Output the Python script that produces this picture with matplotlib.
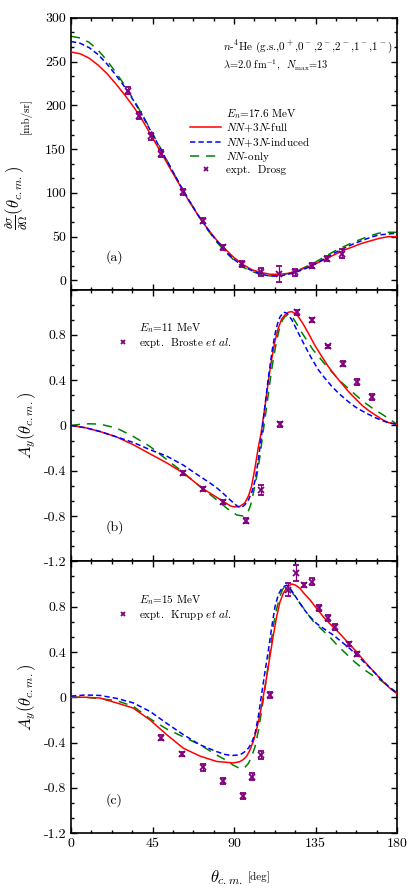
import matplotlib
matplotlib.use('Agg')

import matplotlib.pyplot as plt
from matplotlib.lines import Line2D
from matplotlib.ticker import MultipleLocator, AutoMinorLocator, FuncFormatter

plt.rcParams['font.family'] = ['cmr10', 'DejaVu Serif']
plt.rcParams['mathtext.fontset'] = 'cm'
plt.rcParams['axes.unicode_minus'] = False
plt.rcParams['axes.formatter.use_mathtext'] = True

# -------------------------
# Panel (a): cross section, En = 17.6 MeV
# -------------------------
ang_a = [0, 5, 10, 15, 20, 25, 30, 35, 40, 45, 50, 55, 60, 65, 70, 75, 80, 85, 90,
         95, 100, 105, 110, 115, 120, 125, 130, 135, 140, 145, 150, 155, 160, 165,
         170, 175, 180]
xs_full = [261, 259, 254, 246, 236, 224, 211, 197, 181, 163, 145, 127, 109, 91, 75,
           60, 47, 36, 26, 18, 12, 9, 7, 7, 8, 11, 15, 19, 24, 29, 34, 38, 42, 45,
           48, 50, 50]
xs_ind = [273, 271, 266, 258, 247, 234, 220, 204, 186, 167, 148, 129, 110, 92, 75,
          60, 46, 34, 24, 16, 11, 7, 5, 5, 7, 10, 14, 19, 25, 31, 36, 41, 45, 49,
          52, 53, 54]
xs_nn = [279, 277, 272, 263, 251, 237, 222, 205, 187, 168, 149, 129, 110, 92, 75,
         59, 45, 33, 23, 15, 10, 7, 5, 6, 8, 11, 16, 21, 27, 33, 38, 43, 47, 51,
         54, 55, 55]
drosg_ang = [31.6, 37.7, 44.0, 49.9, 61.7, 72.7, 83.8, 94.4, 104.9, 114.7, 123.9,
             133.0, 141.2, 149.6]
drosg_xs = [216.9, 188.4, 164.8, 144.9, 101.0, 68.2, 37.7, 18.7, 9.6, 7.3, 9.6,
            16.8, 24.8, 30.5]
drosg_err = [4, 4, 4, 4, 3, 3, 3, 3, 5, 9, 4, 3, 3, 5]

# -------------------------
# Panel (b): analyzing power, En = 11 MeV
# -------------------------
ang_b_full = [0, 8, 16, 25, 34.4, 43, 52.8, 62, 73, 84, 88, 90.4, 93, 95.9, 98,
              99.6, 101.5, 103.3, 105, 107, 109, 110.7, 112.5, 114.4, 116.3, 118.1,
              120, 121.8, 123.7, 125.5, 128, 131, 134.5, 138.4, 142, 145.8, 149.5,
              153.1, 156.8, 160.5, 164, 167.8, 171.5, 175.2, 180]
ay_b_full = [0, -0.02, -0.053, -0.10, -0.17, -0.245, -0.33, -0.42, -0.56, -0.67,
             -0.71, -0.72, -0.715, -0.685, -0.62, -0.54, -0.38, -0.2, -0.06, 0.16,
             0.40, 0.58, 0.74, 0.86, 0.94, 0.977, 1.0, 1.006, 0.99, 0.96, 0.90,
             0.815, 0.71, 0.61, 0.52, 0.44, 0.37, 0.30, 0.24, 0.18, 0.135, 0.094,
             0.055, 0.025, 0.01]
ang_b_ind = [0, 8, 16, 25, 34.4, 43, 52.8, 62, 71.2, 76, 80.4, 84, 88, 92, 94, 96,
             98, 100, 101.7, 103.5, 105.3, 107, 109, 111, 112.7, 114, 115.4, 117.3,
             118.7, 120, 122, 123.7, 126, 129.2, 132.5, 136.6, 140, 144, 148, 153.1,
             156.8, 160.5, 164, 167.8, 171.5, 175, 180]
ay_b_ind = [0, -0.02, -0.053, -0.10, -0.15, -0.21, -0.27, -0.35, -0.45, -0.50,
            -0.55, -0.60, -0.66, -0.715, -0.725, -0.70, -0.656, -0.58, -0.48, -0.29,
            -0.07, 0.17, 0.43, 0.66, 0.815, 0.90, 0.96, 1.0, 0.995, 0.977, 0.93,
            0.874, 0.80, 0.70, 0.60, 0.49, 0.42, 0.344, 0.28, 0.21, 0.165, 0.13,
            0.10, 0.07, 0.045, 0.025, 0.01]
ang_b_nn = [0, 5, 10, 16, 25.2, 34.4, 43.6, 52.8, 62, 71.2, 80.4, 85.9, 91.4, 95.1,
            97.8, 99.2, 100.6, 102.5, 104.3, 106, 108, 110, 111.6, 113.5, 115.3,
            116.7, 118, 119.5, 120.8, 122.5, 124.5, 127, 130, 133.5, 137.4, 141,
            144.7, 149, 153.9, 158.5, 163.1, 167.5, 172.2, 177.7, 180]
ay_b_nn = [0.0, 0.01, 0.015, 0.012, -0.023, -0.097, -0.185, -0.30, -0.415, -0.54,
           -0.656, -0.73, -0.79, -0.80, -0.76, -0.70, -0.60, -0.45, -0.27, -0.06,
           0.17, 0.41, 0.58, 0.75, 0.874, 0.93, 0.96, 0.975, 0.977, 0.95, 0.90,
           0.83, 0.756, 0.67, 0.595, 0.525, 0.46, 0.385, 0.315, 0.25, 0.19, 0.14,
           0.094, 0.035, 0.01]
broste_ang = [62.0, 73.1, 84.1, 96.6, 105.1, 115.4, 124.6, 133.1, 141.7, 150.3,
              158.1, 166.2]
broste_ay = [-0.42, -0.56, -0.676, -0.84, -0.57, 0.01, 1.0, 0.93, 0.70, 0.547,
             0.383, 0.25]
broste_err = [0.02, 0.02, 0.02, 0.025, 0.04, 0.02, 0.02, 0.015, 0.015, 0.02, 0.025,
              0.025]

# -------------------------
# Panel (c): analyzing power, En = 15 MeV
# -------------------------
ang_c_full = [0, 8, 16, 25.2, 34.4, 43.6, 52.8, 62, 71.2, 80.4, 89.6, 93, 95.1, 97,
              98.8, 100.6, 102.4, 104.3, 106.1, 108, 109.8, 111.6, 113.5, 115.3,
              117.2, 119.5, 121.8, 124, 126.4, 129, 131.9, 135.5, 139.3, 144, 148.5,
              153, 157.7, 162.3, 166.9, 171.5, 176, 180]
ay_c_full = [0, 0.0, -0.007, -0.05, -0.096, -0.2, -0.33, -0.45, -0.52, -0.567,
             -0.58, -0.57, -0.55, -0.52, -0.465, -0.39, -0.29, -0.15, 0.004, 0.18,
             0.36, 0.54, 0.71, 0.84, 0.92, 0.975, 1.0, 0.99, 0.96, 0.91, 0.86, 0.785,
             0.71, 0.63, 0.56, 0.48, 0.40, 0.31, 0.23, 0.15, 0.08, 0.03]
ang_c_ind = [0, 8, 16, 25.2, 34.4, 43.6, 52.8, 62, 71.2, 80.4, 85, 88.7, 92, 94.2,
             96, 97.9, 99.8, 101.6, 103.5, 105.3, 107.2, 109, 110.8, 112.6, 114.5,
             116.3, 117.7, 119.1, 120.9, 122.7, 125.5, 128.2, 131.9, 135.6, 140,
             144.7, 149.3, 153.9, 158.5, 163.1, 167.7, 172.2, 176, 180]
ay_c_ind = [0.01, 0.02, 0.016, -0.01, -0.05, -0.125, -0.23, -0.33, -0.42, -0.48,
            -0.505, -0.515, -0.51, -0.50, -0.48, -0.45, -0.40, -0.32, -0.16, 0.037,
            0.24, 0.42, 0.62, 0.80, 0.91, 0.96, 0.98, 0.99, 0.96, 0.92, 0.85, 0.785,
            0.71, 0.65, 0.60, 0.55, 0.49, 0.43, 0.36, 0.29, 0.215, 0.14, 0.085, 0.03]
ang_c_nn = [0, 8, 16, 25.2, 34.4, 43.6, 52.8, 62, 71.2, 80.4, 86, 89.6, 93.3, 95.6,
            97.9, 99.8, 101.6, 103.5, 105.3, 108, 109.8, 111.6, 113.5, 115.3, 116.7,
            118, 119.4, 120.8, 123.6, 126.4, 130, 133.7, 138.3, 142.9, 147.5, 152.1,
            156.7, 161.3, 165.8, 170.4, 175, 180]
ay_c_nn = [0.0, 0.0, -0.013, -0.03, -0.08, -0.19, -0.28, -0.35, -0.42, -0.51, -0.56,
           -0.60, -0.63, -0.625, -0.585, -0.52, -0.435, -0.29, -0.11, 0.18, 0.40,
           0.625, 0.78, 0.89, 0.95, 0.98, 0.975, 0.96, 0.89, 0.83, 0.75, 0.67, 0.60,
           0.53, 0.45, 0.38, 0.31, 0.25, 0.20, 0.155, 0.10, 0.04]
krupp_ang = [49.7, 61.5, 73.1, 84.1, 94.8, 99.9, 105.1, 110.0, 119.6, 124.0, 128.7,
             133.0, 137.1, 141.6, 145.8, 153.7, 157.7]
krupp_ay = [-0.357, -0.50, -0.62, -0.74, -0.87, -0.70, -0.51, 0.02, 0.95, 1.10, 0.99,
            1.02, 0.79, 0.70, 0.62, 0.47, 0.38]
krupp_err = [0.02, 0.02, 0.03, 0.03, 0.025, 0.03, 0.035, 0.025, 0.06, 0.07, 0.02,
             0.03, 0.025, 0.03, 0.025, 0.02, 0.02]

# -------------------------
# Styles
# -------------------------
RED, BLUE, GREEN, PURP = '#ff0000', '#0000ff', '#008000', '#800080'
LW = 1.1
BLUE_DASH = (3.5, 2.0)
GREEN_DASH = (6.0, 4.5)

fig = plt.figure(figsize=(4.15, 8.92), dpi=100)
gs = fig.add_gridspec(3, 1, left=0.171, right=0.957, top=0.98, bottom=0.066,
                      hspace=0)
axes = [fig.add_subplot(gs[k]) for k in range(3)]


def style_axis(ax):
    for sp in ax.spines.values():
        sp.set_linewidth(1.2)
    ax.set_xlim(0, 180)
    ax.xaxis.set_major_locator(MultipleLocator(45))
    ax.xaxis.set_minor_locator(MultipleLocator(11.25))
    ax.tick_params(which='both', direction='in', top=True, right=True,
                   labelsize=10, width=1.0)
    ax.tick_params(which='major', length=4.5)
    ax.tick_params(which='minor', length=2.5)
    ax.xaxis.set_major_formatter(FuncFormatter(lambda v, p: f'{v:.0f}'))


def draw_curves(ax, af, yf, ai, yi, an, yn):
    ax.plot(af, yf, color=RED, lw=LW, zorder=3)
    ax.plot(ai, yi, color=BLUE, lw=LW, dashes=BLUE_DASH, zorder=3)
    ax.plot(an, yn, color=GREEN, lw=LW, dashes=GREEN_DASH, zorder=2)


def draw_expt(ax, x, y, e):
    ax.errorbar(x, y, yerr=e, fmt='x', color=PURP, ecolor=PURP, ms=4, mew=1.3,
                elinewidth=0.9, capsize=2.2, capthick=0.9, zorder=4)


blank = Line2D([], [], color='none')
xmark = Line2D([], [], color=PURP, marker='x', ls='none', ms=3.5, mew=1.3)

# ---- (a)
ax = axes[0]
style_axis(ax)
draw_curves(ax, ang_a, xs_full, ang_a, xs_ind, ang_a, xs_nn)
draw_expt(ax, drosg_ang, drosg_xs, drosg_err)
ax.set_ylim(-10.5, 300)
ax.yaxis.set_major_locator(MultipleLocator(50))
ax.yaxis.set_minor_locator(AutoMinorLocator(3))
ax.yaxis.set_major_formatter(FuncFormatter(lambda v, p: f'{v:.0f}'))
ax.tick_params(labelbottom=False)
handles = [blank,
           Line2D([], [], color=RED, lw=LW),
           Line2D([], [], color=BLUE, lw=LW, dashes=BLUE_DASH),
           Line2D([], [], color=GREEN, lw=LW, dashes=GREEN_DASH),
           xmark]
labels = [r'$E_n$=17.6 MeV', r'$NN$+3$N$-full', r'$NN$+3$N$-induced',
          r'$NN$-only', 'expt.  Drosg']
ax.legend(handles, labels, loc='upper left', bbox_to_anchor=(0.365, 0.672),
          frameon=False, fontsize=8, handlelength=2.8, handletextpad=0.4,
          labelspacing=0.1, borderpad=0, borderaxespad=0)
ax.text(0.465, 0.895, r'$n$-$^4$He (g.s.,0$^+$,0$^-$,2$^-$,2$^-$,1$^-$,1$^-$)',
        transform=ax.transAxes, fontsize=8, ha='left', va='center')
ax.text(0.465, 0.83, r'$\lambda$=2.0 fm$^{-1}$,  $N_{\rm max}$=13',
        transform=ax.transAxes, fontsize=7.5, ha='left', va='center')
ax.text(0.105, 0.12, '(a)', transform=ax.transAxes, fontsize=10, ha='left',
        va='center')

# ---- (b) and (c)
def ay_fmt(v, p):
    if v > 1.0:
        return ''
    if abs(v) < 1e-9:
        return '0'
    return f'{v:.1f}'


panels_bc = [
    (axes[1], ang_b_full, ay_b_full, ang_b_ind, ay_b_ind, ang_b_nn, ay_b_nn,
     broste_ang, broste_ay, broste_err,
     [r'$E_n$=11 MeV', r'expt.  Broste $et\ al.$'], '(b)', 0.125),
    (axes[2], ang_c_full, ay_c_full, ang_c_ind, ay_c_ind, ang_c_nn, ay_c_nn,
     krupp_ang, krupp_ay, krupp_err,
     [r'$E_n$=15 MeV', r'expt.  Krupp $et\ al.$'], '(c)', 0.12),
]
for (ax, af, yf, ai, yi, an, yn, ex, ey, ee, leg_labels, tag, tag_y) in panels_bc:
    style_axis(ax)
    draw_curves(ax, af, yf, ai, yi, an, yn)
    draw_expt(ax, ex, ey, ee)
    ax.set_ylim(-1.2, 1.2)
    ax.yaxis.set_major_locator(MultipleLocator(0.4))
    ax.yaxis.set_minor_locator(AutoMinorLocator(3))
    ax.yaxis.set_major_formatter(FuncFormatter(ay_fmt))
    ax.set_ylabel(r'$A_y(\theta_{c.m.})$', fontsize=12, labelpad=4)
    ax.legend([blank, xmark], leg_labels, loc='upper left',
              bbox_to_anchor=(0.143, 0.885), frameon=False, fontsize=8,
              handlelength=0.9, handletextpad=1.0, labelspacing=0.1,
              borderpad=0, borderaxespad=0)
    ax.text(0.105, tag_y, tag, transform=ax.transAxes, fontsize=10, ha='left',
            va='center')

axes[1].tick_params(labelbottom=False)

# y label of panel (a), with smaller unit part
fig.text(17 / 415, 1 - 230 / 892, r'$\frac{\partial\sigma}{\partial\Omega}(\theta_{c.m.})$',
         rotation=90, ha='center', va='bottom', fontsize=12)
fig.text(26 / 415, 1 - 134 / 892, '[mb/sr]', rotation=90, ha='center',
         va='bottom', fontsize=8)

# x label, with smaller unit part
fig.text(243 / 415, 1 - 878 / 892, r'$\theta_{c.m.}$', ha='right', va='center',
         fontsize=12)
fig.text(248 / 415, 1 - 877 / 892, '[deg]', ha='left', va='center', fontsize=8)

fig.savefig('out.png', dpi=100)
